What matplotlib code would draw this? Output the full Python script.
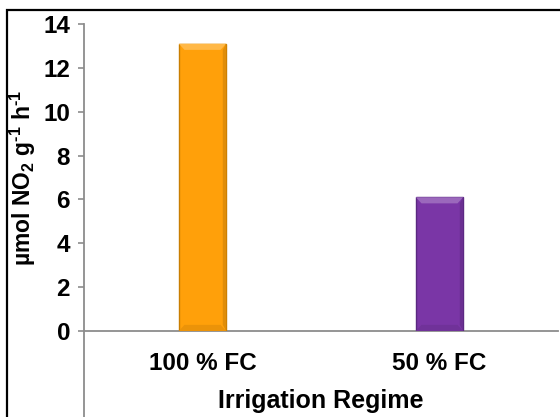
import matplotlib
matplotlib.use("Agg")
import matplotlib.pyplot as plt
from matplotlib.patches import Rectangle, Polygon
from matplotlib.lines import Line2D
import matplotlib.colors as mcolors

categories = ["100 % FC", "50 % FC"]
values = [13.1, 6.1]
colors = ["#FFA00A", "#7A36A6"]
edge_colors = ["#C97E00", "#5A2880"]
yticks = [0, 2, 4, 6, 8, 10, 12, 14]

plt.rcParams['font.family'] = ['Liberation Sans', 'DejaVu Sans']
plt.rcParams['font.weight'] = 'bold'
plt.rcParams['mathtext.fontset'] = 'custom'
plt.rcParams['mathtext.rm'] = 'Liberation Sans:bold'
plt.rcParams['mathtext.bf'] = 'Liberation Sans:bold'
plt.rcParams['mathtext.default'] = 'bf'

fig = plt.figure(figsize=(5.6, 4.17), dpi=100)
ax = fig.add_axes([84/560, (417-331)/417, 474/560, 307/417])

x = list(range(len(categories)))
bars = ax.bar(x, values, width=0.2, color=colors, edgecolor=edge_colors, linewidth=1.0, zorder=3)


def shade(c, f):
    r, g, b = mcolors.to_rgb(c)
    if f > 0:
        return (r + (1 - r) * f, g + (1 - g) * f, b + (1 - b) * f)
    return (r * (1 + f), g * (1 + f), b * (1 + f))


# subtle bevel decoration derived from each bar's geometry
for bar, c in zip(bars, colors):
    x0, w, h = bar.get_x(), bar.get_width(), bar.get_height()
    bx, by = w * 0.12, 0.28
    top = Polygon([(x0, h), (x0 + w, h), (x0 + w - bx, h - by), (x0 + bx, h - by)],
                  closed=True, facecolor=shade(c, 0.25), edgecolor="none", zorder=4)
    bot = Polygon([(x0, 0), (x0 + w, 0), (x0 + w - bx, by), (x0 + bx, by)],
                  closed=True, facecolor=shade(c, -0.08), edgecolor="none", zorder=4)
    right = Polygon([(x0 + w, 0), (x0 + w, h), (x0 + w - bx * 0.6, h - by), (x0 + w - bx * 0.6, by)],
                    closed=True, facecolor=shade(c, -0.12), edgecolor="none", zorder=4)
    ax.add_patch(top)
    ax.add_patch(bot)
    ax.add_patch(right)

ax.set_xlim(-0.5, 1.5)
ax.set_ylim(0, 14)
ax.set_yticks(yticks)
ax.set_yticklabels([str(v) for v in yticks])
ax.set_xticks(x)
ax.set_xticklabels(categories)

grey = "#8C8C8C"
for s in ["top", "right"]:
    ax.spines[s].set_visible(False)
ax.spines["left"].set_color(grey)
ax.spines["bottom"].set_color(grey)
ax.spines["left"].set_linewidth(1.3)
ax.spines["bottom"].set_linewidth(1.3)

ax.tick_params(axis="y", direction="out", length=4.5, width=1.2, color=grey,
               pad=5.5, labelsize=17.5)
ax.tick_params(axis="x", length=0, pad=15, labelsize=17.5)
for lbl in ax.get_xticklabels() + ax.get_yticklabels():
    lbl.set_fontweight("bold")

# left axis line extends below the zero line (category axis divider)
ax.add_line(Line2D([0, 0], [0, -0.5], transform=ax.transAxes, color=grey,
                   linewidth=1.3, clip_on=False))

ax.set_xlabel("Irrigation Regime", fontsize=18, fontweight="bold", va="top")
ax.xaxis.set_label_coords(0.5, -0.19)
ax.set_ylabel(r"µmol NO$_{2}$ g$^{\text{-}1}$ h$^{\text{-}1}$", fontsize=16.5, fontweight="bold")
ax.yaxis.set_label_coords(-0.098, 0.5)

# outer chart border (extends beyond the right and bottom edges)
fig.patches.append(Rectangle((7/560, -0.2), 1.2, (417-10)/417 + 0.2,
                             transform=fig.transFigure, fill=False,
                             edgecolor="black", linewidth=1.6, zorder=10))

fig.savefig("out.png", dpi=100)
